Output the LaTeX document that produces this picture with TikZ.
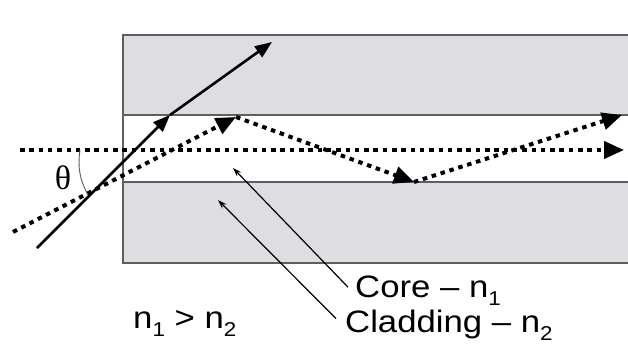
\documentclass[tikz,border=0pt]{standalone}
\usepackage{fontspec}
\setmainfont{Liberation Sans}
\newfontfamily\thetafont{Liberation Serif}
\usetikzlibrary{arrows.meta,positioning,calc}
\definecolor{cladgray}{RGB}{222,221,225}
\definecolor{edgegray}{RGB}{95,95,95}
\newcommand{\subidx}[1]{\raisebox{-8pt}{\fontsize{20}{20}\selectfont #1}}
\newcommand{\widetext}[1]{\scalebox{1.12}[1]{#1}}
\tikzset{
  fiber/.style  = {draw=edgegray, line width=1.3pt},
  ray/.style    = {line width=2.6pt, -{Triangle[length=17pt,width=13pt]}},
  dotray/.style = {line width=4pt, dash pattern=on 4.5pt off 4.8pt,
                   -{Triangle[length=20pt,width=17pt]}},
  leader/.style = {line width=1.2pt, -{Stealth[length=9pt,width=6pt]}},
  lbl/.style    = {font=\fontsize{31}{32}\selectfont, inner sep=0pt, anchor=base west},
}
\begin{document}
\begin{tikzpicture}[x=1pt,y=-1pt]
  \useasboundingbox (0,0) rectangle (628,348);
  \clip (0,0) rectangle (628,348);
  % fibre: cladding and core
  \filldraw[fiber, fill=cladgray] (123,35) rectangle (660,263);
  \filldraw[fiber, fill=white] (123,115) rectangle (660,182);
  % ray points
  \coordinate (axL) at (20,150);
  \coordinate (axR) at (624,150);
  \coordinate (rin) at (37,248);
  \coordinate (rhit) at (170,115);
  \coordinate (rout) at (272,42);
  \coordinate (din) at (13,232);
  \coordinate (b1) at (236,117);
  \coordinate (b2) at (414,182);
  \coordinate (b3) at (622,115);
  % axis and guided ray
  \draw[dotray] (axL) -- (axR);
  \draw[dotray] (din) -- (b1);
  \draw[dotray] (b1) -- (b2);
  \draw[dotray] (b2) -- (b3);
  % refracted ray escaping
  \draw[ray] (rin) -- (rhit);
  \draw[ray] (rhit) -- (rout);
  % acceptance angle
  \coordinate (th1) at (80,150);
  \coordinate (th2) at (88,195);
  \draw[gray!70!black, line width=0.9pt] (th1) to[bend right=18] (th2);
  \node[font=\thetafont\fontsize{34}{34}\selectfont, inner sep=0pt] (theta) at (63,178) {θ};
  % labels
  \node[lbl] (core) at (355,297) {\widetext{Core – n\subidx{1}}};
  \node[lbl] (clad) at (345,332) {\widetext{Cladding – n\subidx{2}}};
  \node[lbl] (ineq) at (133,328) {\widetext{n\subidx{1} > n\subidx{2}}};
  \coordinate (coreTip) at (233,168);
  \coordinate (cladTip) at (218,200);
  \draw[leader] ($(core.north west)!0.4!(core.south west)+(-7,0)$) -- (coreTip);
  \draw[leader] ($(clad.north west)!0.3!(clad.south west)+(-9,0)$) -- (cladTip);
\end{tikzpicture}
\end{document}
